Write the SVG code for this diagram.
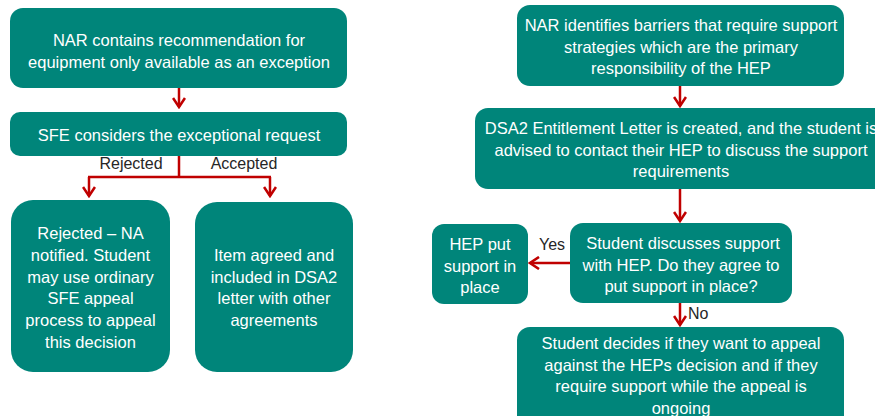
<svg xmlns="http://www.w3.org/2000/svg" width="875" height="416" viewBox="0 0 875 416">
<defs>
<style>
.box{fill:#00857A;}
.t{font-family:"Liberation Sans",Arial,sans-serif;font-size:16.5px;fill:#FFFFFF;text-anchor:middle;}
.lbl{font-family:"Liberation Sans",Arial,sans-serif;font-size:16px;fill:#262626;}
.c{fill:none;stroke:#C00000;stroke-width:2.5;}
</style>
<marker id="ah" viewBox="0 0 14 14" refX="12" refY="7" markerWidth="14" markerHeight="14" orient="auto" markerUnits="userSpaceOnUse">
<path d="M3,1 L12,7 L3,13" fill="none" stroke="#C00000" stroke-width="2.6"/>
</marker>
</defs>
<rect width="875" height="416" fill="#FFFFFF"/>

<g id="n1"><rect class="box" x="10" y="8" width="337" height="80" rx="13"/>
<text class="t" x="179" y="46">NAR contains recommendation for</text>
<text class="t" x="179" y="67.5">equipment only available as an exception</text></g>

<g id="n2"><rect class="box" x="10" y="112" width="337" height="44" rx="10"/>
<text class="t" x="179" y="141">SFE considers the exceptional request</text></g>

<g id="n3"><rect class="box" x="11" y="200" width="159" height="172" rx="22"/>
<text class="t" x="90.5" y="239">Rejected – NA</text>
<text class="t" x="90.5" y="260.8">notified. Student</text>
<text class="t" x="90.5" y="282.6">may use ordinary</text>
<text class="t" x="90.5" y="304.4">SFE appeal</text>
<text class="t" x="90.5" y="326.2">process to appeal</text>
<text class="t" x="90.5" y="348">this decision</text></g>

<g id="n4"><rect class="box" x="195" y="202" width="158" height="170" rx="22"/>
<text class="t" x="274" y="261">Item agreed and</text>
<text class="t" x="274" y="282.5">included in DSA2</text>
<text class="t" x="274" y="304">letter with other</text>
<text class="t" x="274" y="326">agreements</text></g>

<g id="r1"><rect class="box" x="517" y="5" width="327" height="81" rx="13"/>
<text class="t" x="681" y="31">NAR identifies barriers that require support</text>
<text class="t" x="681" y="52.5">strategies which are the primary</text>
<text class="t" x="681" y="74">responsibility of the HEP</text></g>

<g id="r2"><rect class="box" x="475" y="108" width="420" height="81" rx="13"/>
<text class="t" x="681" y="134">DSA2 Entitlement Letter is created, and the student is</text>
<text class="t" x="681" y="155.5">advised to contact their HEP to discuss the support</text>
<text class="t" x="681" y="177">requirements</text></g>

<g id="r3"><rect class="box" x="570" y="223" width="222" height="80" rx="13"/>
<text class="t" x="683" y="249">Student discusses support</text>
<text class="t" x="681" y="270.5">with HEP. Do they agree to</text>
<text class="t" x="681" y="292">put support in place?</text></g>

<g id="r4"><rect class="box" x="432" y="224" width="96" height="80" rx="12"/>
<text class="t" x="480" y="250">HEP put</text>
<text class="t" x="480" y="271.5">support in</text>
<text class="t" x="480" y="293">place</text></g>

<g id="r5"><rect class="box" x="517" y="327" width="327" height="110" rx="13"/>
<text class="t" x="681" y="349">Student decides if they want to appeal</text>
<text class="t" x="681" y="370.5">against the HEPs decision and if they</text>
<text class="t" x="681" y="392">require support while the appeal is</text>
<text class="t" x="681" y="413.5">ongoing</text></g>

<g id="connectors">
<path class="c" d="M179,88 V107" marker-end="url(#ah)"/>
<path class="c" d="M179,156 V177 M88,177 H271"/>
<path class="c" d="M89,177 V196" marker-end="url(#ah)"/>
<path class="c" d="M270,177 V196" marker-end="url(#ah)"/>
<path class="c" d="M680,86 V106" marker-end="url(#ah)"/>
<path class="c" d="M680,189 V221" marker-end="url(#ah)"/>
<path class="c" d="M570,263 H530" marker-end="url(#ah)"/>
<path class="c" d="M680,303 V325" marker-end="url(#ah)"/>
<text class="lbl" x="131" y="169" text-anchor="middle">Rejected</text>
<text class="lbl" x="244" y="169" text-anchor="middle">Accepted</text>
<text class="lbl" x="552" y="250" text-anchor="middle">Yes</text>
<text class="lbl" x="688" y="319">No</text>
</g>
</svg>
